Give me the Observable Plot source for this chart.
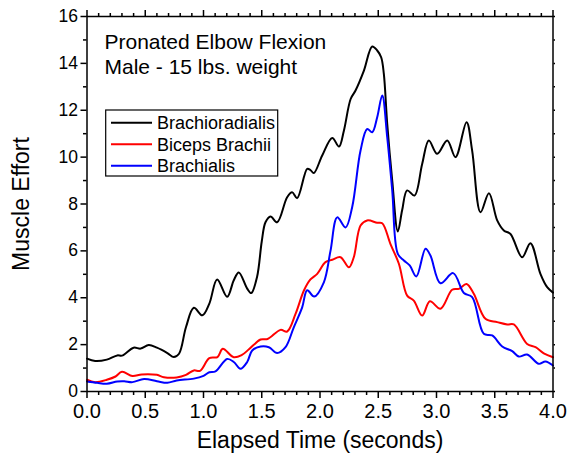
<!DOCTYPE html>
<html>
<head>
<meta charset="utf-8">
<script src="https://cdn.jsdelivr.net/npm/d3@7"></script>
<script src="https://cdn.jsdelivr.net/npm/@observablehq/plot@0.6"></script>
<style>
  html, body { margin: 0; padding: 0; background: #fff; }
  #chart { position: relative; width: 568px; height: 460px; }
  svg { font-family: "Liberation Sans", Arial, sans-serif; }
</style>
</head>
<body>
<div id="chart"></div>
<script>
// ---- Data ----
const seriesNames = ["Brachioradialis", "Biceps Brachii", "Brachialis"];
const seriesColors = ["#000000", "#ff0000", "#0000ff"];

const brachioradialisT = [0, 0.07, 0.17, 0.26, 0.30, 0.40, 0.46, 0.53, 0.60, 0.69, 0.745, 0.79, 0.85, 0.917, 0.99, 1.05, 1.117, 1.203, 1.26, 1.303, 1.375, 1.41, 1.46, 1.50, 1.532, 1.575, 1.632, 1.718, 1.761, 1.804, 1.89, 1.918, 1.947, 2.019, 2.105, 2.163, 2.205, 2.263, 2.305, 2.377, 2.448, 2.491, 2.525, 2.548, 2.577, 2.62, 2.668, 2.705, 2.748, 2.811, 2.877, 2.934, 3.006, 3.092, 3.163, 3.258, 3.306, 3.378, 3.45, 3.521, 3.578, 3.635, 3.735, 3.806, 3.892, 3.95, 4.0];
const brachioradialisV = [1.40, 1.30, 1.36, 1.54, 1.53, 1.87, 1.83, 1.98, 1.87, 1.64, 1.47, 1.61, 2.75, 3.57, 3.25, 3.75, 4.78, 4.04, 4.75, 5.08, 4.39, 4.2, 4.9, 6.4, 7.22, 7.47, 7.22, 8.29, 8.5, 8.25, 9.5, 9.45, 9.32, 10.07, 10.82, 10.45, 11.13, 12.48, 12.84, 13.69, 14.72, 14.55, 14.26, 13.55, 11.42, 9.0, 6.83, 7.73, 8.58, 8.36, 9.71, 10.71, 10.14, 10.71, 10.0, 11.49, 10.28, 7.65, 8.46, 7.3, 6.87, 6.72, 5.73, 6.33, 5.02, 4.45, 4.22];

const bicepsT = [0, 0.07, 0.17, 0.245, 0.30, 0.39, 0.47, 0.60, 0.66, 0.77, 0.85, 0.917, 0.97, 1.05, 1.12, 1.165, 1.26, 1.33, 1.39, 1.49, 1.55, 1.661, 1.718, 1.79, 1.862, 1.918, 1.976, 2.047, 2.105, 2.176, 2.248, 2.29, 2.348, 2.405, 2.491, 2.534, 2.605, 2.677, 2.748, 2.805, 2.877, 2.943, 3.034, 3.134, 3.192, 3.258, 3.32, 3.42, 3.521, 3.607, 3.664, 3.778, 3.85, 3.921, 4.0];
const bicepsV = [0.50, 0.40, 0.50, 0.64, 0.84, 0.66, 0.73, 0.71, 0.61, 0.60, 0.71, 0.90, 0.88, 1.42, 1.47, 1.82, 1.46, 1.56, 1.80, 2.22, 2.24, 2.63, 2.56, 3.31, 4.31, 4.78, 5.02, 5.52, 5.62, 5.73, 5.3, 5.73, 7.08, 7.3, 7.2, 7.18, 6.29, 5.45, 4.09, 3.88, 3.24, 3.85, 3.53, 4.34, 4.38, 4.59, 4.17, 3.1, 2.96, 2.86, 2.86, 2.03, 1.89, 1.63, 1.46];

const brachialisT = [0, 0.087, 0.17, 0.26, 0.32, 0.39, 0.49, 0.60, 0.69, 0.77, 0.917, 1.00, 1.05, 1.103, 1.203, 1.26, 1.317, 1.375, 1.418, 1.49, 1.561, 1.632, 1.704, 1.775, 1.847, 1.89, 1.95, 2.033, 2.09, 2.148, 2.219, 2.276, 2.348, 2.405, 2.448, 2.491, 2.534, 2.577, 2.62, 2.668, 2.72, 2.77, 2.827, 2.906, 2.948, 3.034, 3.143, 3.235, 3.306, 3.406, 3.478, 3.564, 3.65, 3.707, 3.778, 3.878, 3.935, 4.0];
const brachialisV = [0.43, 0.37, 0.33, 0.43, 0.44, 0.40, 0.53, 0.44, 0.37, 0.47, 0.55, 0.67, 0.82, 0.86, 1.39, 1.26, 0.97, 1.26, 1.75, 1.92, 1.89, 1.64, 1.89, 2.74, 3.59, 4.32, 4.05, 4.66, 6.0, 7.43, 7.0, 7.86, 10.28, 11.2, 11.06, 11.7, 12.63, 10.85, 8.58, 5.87, 5.59, 5.38, 4.91, 6.09, 5.8, 4.62, 5.05, 4.2, 4.03, 2.46, 2.39, 1.92, 1.72, 1.49, 1.58, 1.18, 1.28, 1.11];

const xMajorTicks = [0, 0.5, 1.0, 1.5, 2.0, 2.5, 3.0, 3.5, 4.0];
const xMinorTicks = [0.1, 0.2, 0.3, 0.4, 0.6, 0.7, 0.8, 0.9, 1.1, 1.2, 1.3, 1.4, 1.6, 1.7, 1.8, 1.9, 2.1, 2.2, 2.3, 2.4, 2.6, 2.7, 2.8, 2.9, 3.1, 3.2, 3.3, 3.4, 3.6, 3.7, 3.8, 3.9];
const yMajorTicks = [0, 2, 4, 6, 8, 10, 12, 14, 16];
const yMinorTicks = [1, 3, 5, 7, 9, 11, 13, 15];
const yAllTicks = [0, 1, 2, 3, 4, 5, 6, 7, 8, 9, 10, 11, 12, 13, 14, 15, 16];

const xTitle = "Elapsed Time (seconds)";
const yTitle = "Muscle Effort";
const titleLines = ["Pronated Elbow Flexion", "Male - 15 lbs. weight"];

// ---- Build table ----
const seriesT = [brachioradialisT, bicepsT, brachialisT];
const seriesV = [brachioradialisV, bicepsV, brachialisV];
const data = [];
seriesNames.forEach((name, i) => {
  seriesT[i].forEach((t, j) => data.push({series: name, t, v: seriesV[i][j]}));
});

const font = '"Liberation Sans", Arial, sans-serif';
const W = 568, H = 460;
const mL = 86.5, mR = 15.5, mT = 16, mB = 69;

const chart = Plot.plot({
  width: W,
  height: H,
  marginLeft: mL,
  marginRight: mR,
  marginTop: mT,
  marginBottom: mB,
  style: {fontFamily: font, background: "#fff", color: "#000", overflow: "visible"},
  x: {domain: [0, 4], label: null},
  y: {domain: [0, 16], label: null},
  color: {domain: seriesNames, range: seriesColors},
  marks: [
    Plot.line(data, {x: "t", y: "v", z: "series", stroke: "series", strokeWidth: 2, curve: "catmull-rom"}),
    Plot.frame({stroke: "#000", strokeWidth: 1.5}),
    Plot.axisX({anchor: "bottom", ticks: xMajorTicks, tickSize: 7, tickPadding: 5, tickFormat: d3.format(".1f"), fontSize: 20, strokeWidth: 1.5, label: null}),
    Plot.axisX({anchor: "bottom", ticks: xMinorTicks, tickSize: 4, tickFormat: () => "", strokeWidth: 1.5, label: null}),
    Plot.axisX({anchor: "top", ticks: xMajorTicks, tickSize: 7, tickFormat: () => "", strokeWidth: 1.5, label: null}),
    Plot.axisX({anchor: "top", ticks: xMinorTicks, tickSize: 4, tickFormat: () => "", strokeWidth: 1.5, label: null}),
    Plot.axisY({anchor: "left", ticks: yMajorTicks, tickSize: 6, tickPadding: 3, tickFormat: d3.format("d"), fontSize: 17.5, strokeWidth: 1.5, label: null}),
    Plot.axisY({anchor: "left", ticks: yMinorTicks, tickSize: 3.5, tickFormat: () => "", strokeWidth: 1.5, label: null}),
    Plot.axisY({anchor: "right", ticks: yAllTicks, tickSize: 1.5, tickFormat: () => "", strokeWidth: 1.5, label: null}),
    Plot.text([xTitle], {frameAnchor: "bottom", textAnchor: "middle", dy: 56, fontSize: 23, fill: "#000"}),
    Plot.text([yTitle], {frameAnchor: "left", textAnchor: "middle", dx: -65, rotate: -90, fontSize: 23, fill: "#000"}),
    Plot.text([titleLines[0]], {frameAnchor: "top-left", textAnchor: "start", lineAnchor: "top", dx: 17.5, dy: 17.4, fontSize: 21, fill: "#000"}),
    Plot.text([titleLines[1]], {frameAnchor: "top-left", textAnchor: "start", lineAnchor: "top", dx: 17.5, dy: 42.4, fontSize: 21, fill: "#000"})
  ]
});

document.getElementById("chart").appendChild(chart);

// ---- Legend box (drawn into the same SVG) ----
const svg = d3.select(chart);
const lg = svg.append("g")
  .attr("font-family", font)
  .attr("font-size", 18)
  .attr("text-anchor", "start");
lg.append("rect")
  .attr("x", 105.7).attr("y", 110)
  .attr("width", 172).attr("height", 66)
  .attr("fill", "#fff").attr("stroke", "#000").attr("stroke-width", 1.2);
const rowY = [122.7, 144.3, 165.7];
seriesNames.forEach((name, i) => {
  lg.append("line")
    .attr("x1", 111).attr("x2", 152)
    .attr("y1", rowY[i]).attr("y2", rowY[i])
    .attr("stroke", seriesColors[i]).attr("stroke-width", 2);
  lg.append("text")
    .attr("x", 157).attr("y", rowY[i] + 6.4)
    .attr("text-anchor", "start")
    .attr("fill", "#000")
    .text(name);
});
</script>
</body>
</html>
